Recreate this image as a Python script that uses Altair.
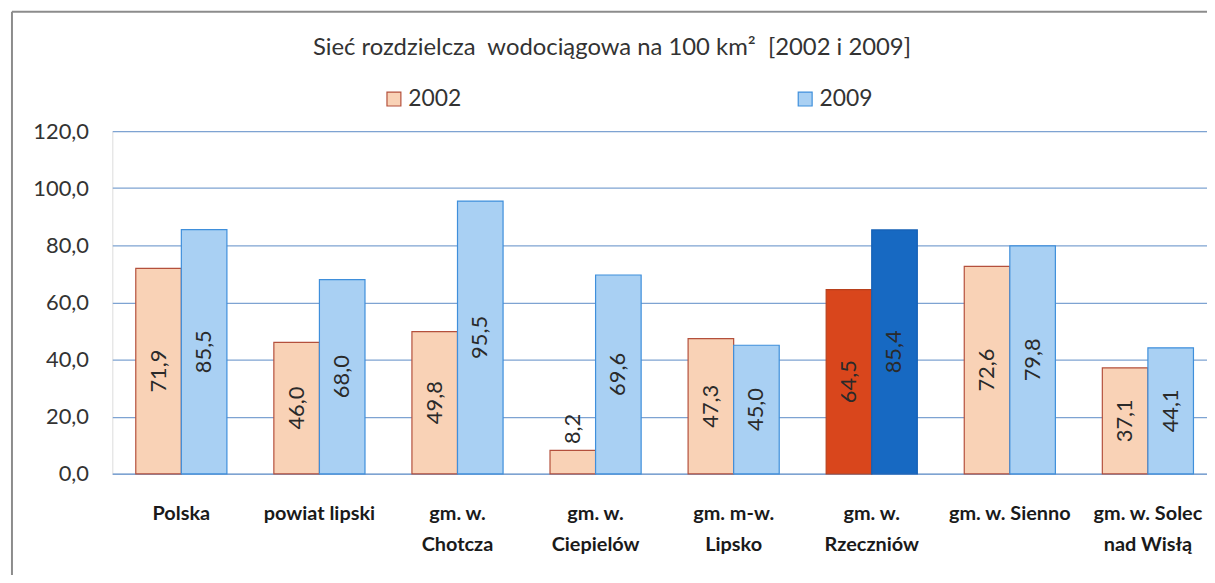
import altair as alt
import pandas as pd

categories = ["Polska", "powiat lipski", "gm. w.\nChotcza", "gm. w.\nCiepielów",
              "gm. m-w.\nLipsko", "gm. w.\nRzeczniów", "gm. w. Sienno", "gm. w. Solec\nnad Wisłą"]
values_2002 = [71.9, 46.0, 49.8, 8.2, 47.3, 64.5, 72.6, 37.1]
values_2009 = [85.5, 68.0, 95.5, 69.6, 45.0, 85.4, 79.8, 44.1]
years = ["2002", "2009"]
highlighted = "gm. w.\nRzeczniów"
y_ticks = [0, 20, 40, 60, 80, 100, 120]
title_text = "Sieć rozdzielcza\u00a0\u00a0wodociągowa na 100 km²\u00a0\u00a0[2002 i 2009]"

keys = ["2002", "2009", "2002h", "2009h"]
fills = ["#F9D2B6", "#A9D0F3", "#D9461C", "#1769C2"]
strokes = ["#B4503C", "#3F8FDB", "#B8401C", "#1460B5"]

rows = []
for c, a, b in zip(categories, values_2002, values_2009):
    for yr, v in zip(years, (a, b)):
        rows.append({"cat": c, "year": yr, "value": v,
                     "key": yr + ("h" if c == highlighted else ""),
                     "label": f"{v:.1f}".replace(".", ",")})
df = pd.DataFrame(rows)

FONT = "Lato"
GRID = "#7EA3D2"

x_enc = alt.X("cat:N", sort=categories, title=None,
              scale=alt.Scale(paddingInner=0.34, paddingOuter=0.17, range=[0, 1112]),
              axis=alt.Axis(labelAngle=0, labelExpr="split(datum.label, '\\n')",
                            labelFont=FONT, labelFontSize=20, labelFontWeight="bold",
                            labelColor="#1a1a1a", labelLineHeight=31, labelPadding=30,
                            labelBaseline="top",
                            ticks=False, domainColor=GRID, domainWidth=1.5,
                            labelLimit=300, labelOverlap=False))
xo_enc = alt.XOffset("year:N", sort=years, scale=alt.Scale(paddingInner=0, paddingOuter=0))

legend = alt.Legend(values=years, title=None, orient="none", legendX=272, legendY=-44,
                    direction="horizontal", symbolType="square", symbolSize=196,
                    symbolStrokeWidth=1.2, labelFont=FONT, labelFontSize=23,
                    labelColor="#333", labelOffset=3, columnPadding=334, padding=0)

bars = alt.Chart(df).mark_bar(strokeWidth=1.2).encode(
    x=x_enc,
    xOffset=xo_enc,
    y=alt.Y("value:Q", title=None,
            scale=alt.Scale(domain=[0, 120], nice=False),
            axis=alt.Axis(values=y_ticks, labelExpr="replace(format(datum.value, '.1f'), '.', ',')",
                          labelFont=FONT, labelFontSize=22, labelColor="#333",
                          labelPadding=24, ticks=False, domain=False,
                          gridColor=GRID, gridWidth=1.2)),
    fill=alt.Fill("key:N", scale=alt.Scale(domain=keys, range=fills), legend=legend),
    stroke=alt.Stroke("key:N", scale=alt.Scale(domain=keys, range=strokes), legend=legend),
)

texts = alt.Chart(df).transform_calculate(
    ly="datum.value < 15 ? datum.value + 7.5 : datum.value / 2"
).mark_text(angle=270, font=FONT, fontSize=22, color="#2a2a2a",
            align="center", baseline="middle").encode(
    x=alt.X("cat:N", sort=categories),
    xOffset=alt.XOffset("year:N", sort=years),
    y=alt.Y("ly:Q"),
    text="label:N",
)

frame_data = alt.Data(values=[{"a": 1}])
left_frame = alt.Chart(frame_data).mark_rule(color="#8c8c8c", strokeWidth=2).encode(
    x=alt.value(-101), y=alt.value(-120), y2=alt.value(470))
top_frame = alt.Chart(frame_data).mark_rule(color="#8c8c8c", strokeWidth=2).encode(
    x=alt.value(-101), x2=alt.value(1110), y=alt.value(-120))

chart = alt.layer(bars, texts, left_frame, top_frame).properties(
    width=1102, height=345,
    autosize=alt.AutoSizeParams(type="none"),
    padding={"left": 105, "top": 122, "right": 0, "bottom": 100},
    title=alt.TitleParams(title_text, font=FONT, fontSize=24, fontWeight="normal",
                          color="#333", anchor="middle", frame="group",
                          baseline="alphabetic", offset=-68, dx=-48),
).configure_view(stroke=GRID, strokeWidth=1.2).configure(background="white")

chart.save("out.html", embed_options={"renderer": "svg", "actions": False})
